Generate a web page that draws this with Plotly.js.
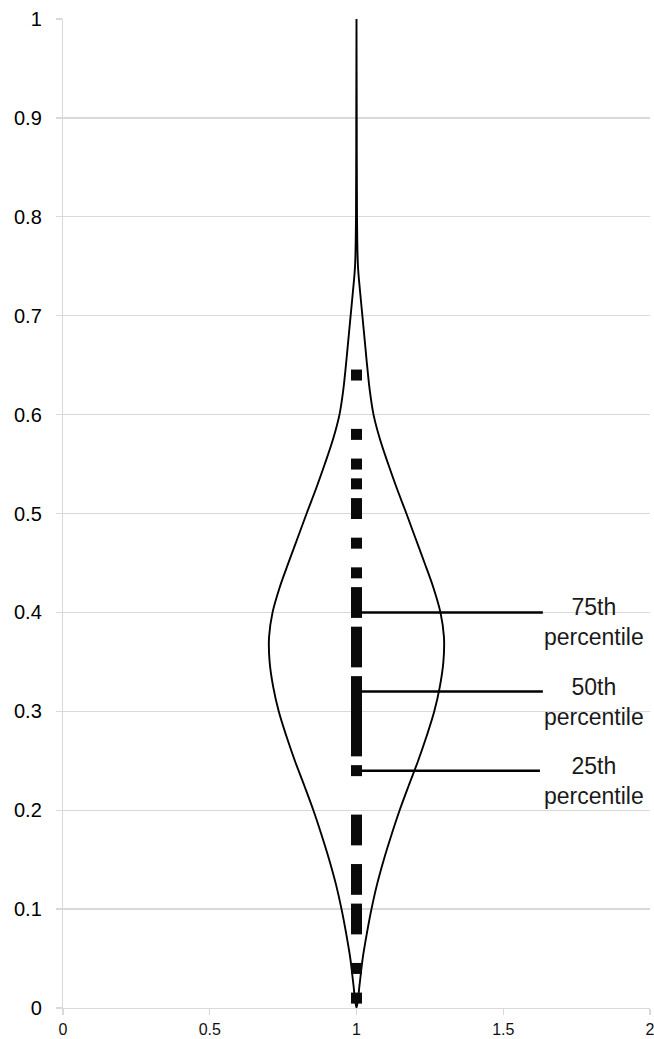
<!DOCTYPE html>
<html>
<head>
<meta charset="utf-8">
<script src="https://cdn.plot.ly/plotly-3.0.1.min.js"></script>
<style>html,body{margin:0;padding:0;background:#fff;}#chart{width:654px;height:1039px;}</style>
</head>
<body>
<div id="chart"></div>
<script>
// Violin outline: y levels and half-widths (x units)
const violinY = [0, 0.025, 0.05, 0.075, 0.10, 0.125, 0.15, 0.175, 0.20, 0.225, 0.25, 0.275, 0.30, 0.325, 0.35, 0.375, 0.40, 0.425, 0.45, 0.475, 0.50, 0.525, 0.55, 0.575, 0.60, 0.625, 0.65, 0.675, 0.70, 0.725, 0.75, 0.80, 0.90, 1.0];
const violinHalfWidth = [0, 0.011, 0.021, 0.035, 0.051, 0.070, 0.093, 0.119, 0.147, 0.178, 0.210, 0.239, 0.265, 0.284, 0.296, 0.298, 0.286, 0.262, 0.232, 0.201, 0.170, 0.138, 0.108, 0.080, 0.058, 0.045, 0.036, 0.028, 0.020, 0.012, 0.005, 0.0017, 0.0008, 0];
const violinCenter = 1;

// Individual observations (all at x = 1)
const pointValues = [0.64, 0.58, 0.55, 0.53, 0.51, 0.50, 0.47, 0.44, 0.42, 0.41, 0.40, 0.38, 0.37, 0.36, 0.35, 0.33, 0.32, 0.31, 0.30, 0.29, 0.28, 0.27, 0.26, 0.24, 0.19, 0.18, 0.17, 0.14, 0.13, 0.12, 0.10, 0.09, 0.08, 0.04, 0.01];

// Percentiles
const percentileNames = ['75th', '50th', '25th'];
const percentileValues = [0.40, 0.32, 0.24];

const yTicks = [0, 0.1, 0.2, 0.3, 0.4, 0.5, 0.6, 0.7, 0.8, 0.9, 1];
const xTicks = [0, 0.5, 1, 1.5, 2];

// Build outline: right side up, left side down
const outX = [], outY = [];
for (let i = 0; i < violinY.length; i++) { outX.push(violinCenter + violinHalfWidth[i]); outY.push(violinY[i]); }
for (let i = violinY.length - 1; i >= 0; i--) { outX.push(violinCenter - violinHalfWidth[i]); outY.push(violinY[i]); }

const traces = [];
traces.push({
  type: 'scatter', mode: 'lines', x: outX, y: outY,
  line: {color: '#000', width: 1.9, shape: 'spline', smoothing: 1},
  hoverinfo: 'skip', showlegend: false
});
const lineEnds = [1.635, 1.635, 1.625];
percentileValues.forEach((v, i) => {
  traces.push({
    type: 'scatter', mode: 'lines', x: [violinCenter, lineEnds[i]], y: [v, v],
    line: {color: '#000', width: 2.5}, hoverinfo: 'skip', showlegend: false
  });
});
traces.push({
  type: 'scatter', mode: 'markers',
  x: pointValues.map(() => violinCenter), y: pointValues,
  marker: {symbol: 'square', size: 11, color: '#0a0a0a'},
  showlegend: false
});

const annotations = percentileValues.map((v, i) => ({
  x: 1.81, y: v, xref: 'x', yref: 'y', yshift: -10,
  text: percentileNames[i] + '<br>percentile', showarrow: false,
  xanchor: 'center', yanchor: 'middle', align: 'center',
  font: {family: 'Liberation Sans, Arial, sans-serif', size: 23, color: '#1a1a1a'}
}));

const layout = {
  width: 654, height: 1039,
  margin: {l: 63, r: 4, t: 19, b: 31},
  paper_bgcolor: '#fff', plot_bgcolor: '#fff',
  showlegend: false,
  font: {family: 'Liberation Sans, Arial, sans-serif', color: '#111'},
  xaxis: {
    range: [0, 2], tickvals: xTicks, ticktext: xTicks.map(String),
    showgrid: false, zeroline: false,
    showline: true, linecolor: '#d9d9d9', linewidth: 1.2,
    ticks: 'outside', ticklen: 6, tickcolor: '#d9d9d9', tickwidth: 1.2,
    tickfont: {size: 16, color: '#111'}, ticklabelstandoff: 1,
    ticklabeloverflow: 'allow'
  },
  yaxis: {
    range: [0, 1], tickvals: yTicks, ticktext: yTicks.map(String),
    showgrid: true, gridcolor: '#d9d9d9', gridwidth: 1.2, zeroline: false,
    showline: true, linecolor: '#d9d9d9', linewidth: 1.2,
    ticks: 'outside', ticklen: 6, tickcolor: '#d9d9d9', tickwidth: 1.2,
    tickfont: {size: 20, color: '#000'}, ticklabelstandoff: 10,
    ticklabeloverflow: 'allow'
  },
  annotations: annotations
};

Plotly.newPlot('chart', traces, layout, {displayModeBar: false, staticPlot: true});
</script>
</body>
</html>
